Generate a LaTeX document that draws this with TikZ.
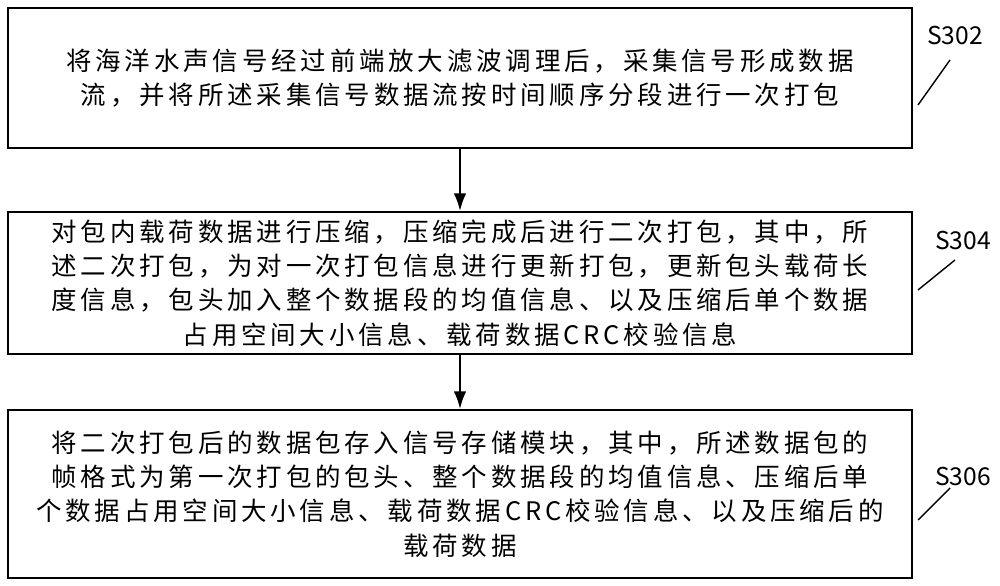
\documentclass[tikz,border=0pt]{standalone}
\usepackage{fontspec}
\setmainfont[LetterSpace=15]{Noto Sans CJK SC}
\newfontfamily\labelfont{Noto Sans CJK SC}
\usetikzlibrary{arrows.meta, positioning}

\begin{document}
\begin{tikzpicture}[
	stepbox/.style={draw, line width=1.2pt, minimum width=18.08cm, align=center, font=\fontsize{14.5}{19.5}\selectfont, inner sep=0pt},
	steplabel/.style={font=\labelfont\fontsize{14}{16}\selectfont},
	flow/.style={-{Latex[length=3.5mm, width=2.5mm]}, line width=1.1pt},
	lead/.style={line width=0.8pt}]
	\useasboundingbox (0,0) rectangle (20,11.72);
	% Steps
	\node[stepbox, minimum height=2.8cm] (s302) at (9.2,10.16) {将海洋水声信号经过前端放大滤波调理后，采集信号形成数据\\流，并将所述采集信号数据流按时间顺序分段进行一次打包};
	\node[stepbox, minimum height=2.84cm] (s304) at (9.2,6.06) {对包内载荷数据进行压缩，压缩完成后进行二次打包，其中，所\\述二次打包，为对一次打包信息进行更新打包，更新包头载荷长\\度信息，包头加入整个数据段的均值信息、以及压缩后单个数据\\占用空间大小信息、载荷数据CRC校验信息};
	\node[stepbox, minimum height=3.36cm] (s306) at (9.2,1.84) {将二次打包后的数据包存入信号存储模块，其中，所述数据包的\\帧格式为第一次打包的包头、整个数据段的均值信息、压缩后单\\个数据占用空间大小信息、载荷数据CRC校验信息、以及压缩后的\\载荷数据};
	% Arrows
	\draw[flow] (s302.south) -- (s304.north);
	\draw[flow] (s304.south) -- (s306.north);
	% Labels
	\node[steplabel] (l302) at (19.1,11.02) {S302};
	\node[steplabel] (l304) at (19.26,6.92) {S304};
	\node[steplabel] (l306) at (19.26,2.2) {S306};
	\coordinate (c302) at (18.36,9.62);
	\coordinate (c304) at (18.36,5.92);
	\coordinate (c306) at (18.36,1.32);
	\draw[lead] (c302) -- (19.0,10.52);
	\draw[lead] (c304) -- (19.1,6.52);
	\draw[lead] (c306) -- (19.0,1.96);
\end{tikzpicture}
\end{document}
